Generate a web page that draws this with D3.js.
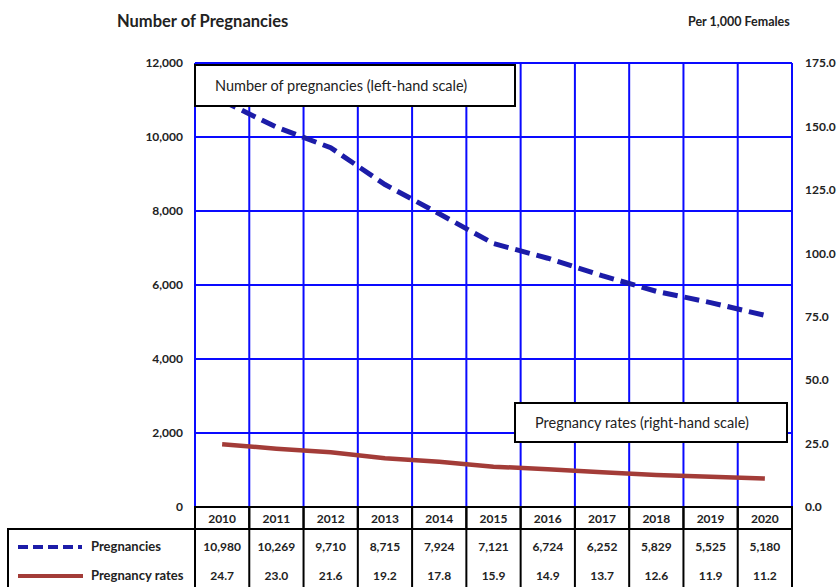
<!DOCTYPE html>
<html>
<head>
<meta charset="utf-8">
<script src="https://cdn.jsdelivr.net/npm/d3@7"></script>
<style>
  body { margin: 0; background: #fff; }
  text { font-family: Lato, "Open Sans", sans-serif; }
</style>
</head>
<body>
<svg id="chart" width="840" height="587"></svg>
<script>
const years = ['2010','2011','2012','2013','2014','2015','2016','2017','2018','2019','2020'];
const pregnancies = [10980, 10269, 9710, 8715, 7924, 7121, 6724, 6252, 5829, 5525, 5180];
const rates = [24.7, 23.0, 21.6, 19.2, 17.8, 15.9, 14.9, 13.7, 12.6, 11.9, 11.2];
const leftTicks = [0, 2000, 4000, 6000, 8000, 10000, 12000];
const rightTicks = [0, 25, 50, 75, 100, 125, 150, 175];

const margin = { top: 63, right: 48, bottom: 80, left: 195 };
const width = 840 - margin.left - margin.right;   // 597
const height = 587 - margin.top - margin.bottom;  // 444

const svg = d3.select('#chart');
const g = svg.append('g').attr('transform', `translate(${margin.left},${margin.top})`);

const x = d3.scaleBand().domain(years).range([0, width]);
const yL = d3.scaleLinear().domain([0, 12000]).range([height, 0]);
const yR = d3.scaleLinear().domain([0, 175]).range([height, 0]);

const grid = '#0a0aff';

// horizontal gridlines
g.selectAll('.hgrid')
  .data(leftTicks)
  .enter()
  .append('line')
  .attr('x1', 0).attr('x2', width)
  .attr('y1', d => yL(d)).attr('y2', d => yL(d))
  .attr('stroke', grid).attr('stroke-width', 2);

// vertical gridlines at band edges
const edges = years.map(d => x(d)).concat([width]);
g.selectAll('.vgrid')
  .data(edges)
  .enter()
  .append('line')
  .attr('x1', d => d).attr('x2', d => d)
  .attr('y1', 0).attr('y2', height)
  .attr('stroke', grid).attr('stroke-width', 2);

// left axis labels
const axL = g.append('g').call(d3.axisLeft(yL).tickValues(leftTicks).tickSize(0).tickPadding(12).tickFormat(d3.format(',')));
axL.select('.domain').remove();
axL.selectAll('text').attr('font-size', 12).attr('font-weight', 'bold').attr('fill', '#222')
  .style('font-family', 'Lato, sans-serif');

// right axis labels
const axR = g.append('g').attr('transform', `translate(${width},0)`)
  .call(d3.axisRight(yR).tickValues(rightTicks).tickSize(0).tickPadding(13).tickFormat(d3.format('.1f')));
axR.select('.domain').remove();
axR.selectAll('text').attr('font-size', 12).attr('font-weight', 'bold').attr('fill', '#222')
  .style('font-family', 'Lato, sans-serif');

const cx = d => x(d) + x.bandwidth() / 2;

// pregnancies line
g.append('path')
  .datum(pregnancies)
  .attr('fill', 'none')
  .attr('stroke', '#1c1ca8')
  .attr('stroke-width', 5)
  .attr('stroke-dasharray', '15,7')
  .attr('d', d3.line().x((d, i) => cx(years[i])).y(d => yL(d)));

// rates line
g.append('path')
  .datum(rates)
  .attr('fill', 'none')
  .attr('stroke', '#a33c38')
  .attr('stroke-width', 4.5)
  .attr('d', d3.line().x((d, i) => cx(years[i])).y(d => yR(d)));

// annotation boxes
function note(bx, by, bw, bh, label) {
  g.append('rect').attr('x', bx).attr('y', by).attr('width', bw).attr('height', bh)
    .attr('fill', '#fff').attr('stroke', '#000').attr('stroke-width', 2);
  g.append('text').attr('x', bx + 20).attr('y', by + bh / 2 + 5)
    .attr('font-size', 14.5).attr('fill', '#222').text(label);
}
note(0, 2, 320, 41, 'Number of pregnancies (left-hand scale)');
note(320, 340, 272, 39, 'Pregnancy rates (right-hand scale)');

// titles
svg.append('text').attr('x', 117).attr('y', 27).attr('font-size', 16.5).attr('font-weight', 'bold')
  .attr('fill', '#222').text('Number of Pregnancies');
svg.append('text').attr('x', 688).attr('y', 26).attr('font-size', 12.5).attr('font-weight', 'bold')
  .attr('fill', '#222').text('Per 1,000 Females');

// data table
const tTop = margin.top + height;       // 507
const hdrH = 22;
const rowTop = tTop + hdrH;             // 529
const tLeft = 8;
const tRight = margin.left + width;     // 792
const tb = svg.append('g');

// header cells
tb.selectAll('.hdr')
  .data(years)
  .enter()
  .append('rect')
  .attr('x', d => margin.left + x(d)).attr('y', tTop)
  .attr('width', x.bandwidth()).attr('height', hdrH)
  .attr('fill', 'none').attr('stroke', '#000').attr('stroke-width', 2);
tb.selectAll('.hdrText')
  .data(years)
  .enter()
  .append('text')
  .attr('x', d => margin.left + cx(d)).attr('y', tTop + 16)
  .attr('text-anchor', 'middle').attr('font-size', 12).attr('font-weight', 'bold').attr('fill', '#222')
  .text(d => d);

// body frame
tb.append('rect').attr('x', tLeft).attr('y', rowTop).attr('width', tRight - tLeft).attr('height', 70)
  .attr('fill', 'none').attr('stroke', '#000').attr('stroke-width', 2);
tb.selectAll('.vsep')
  .data(edges)
  .enter()
  .append('line')
  .attr('x1', d => margin.left + d).attr('x2', d => margin.left + d)
  .attr('y1', rowTop).attr('y2', 587)
  .attr('stroke', '#000').attr('stroke-width', 2);

const row1 = rowTop + 22, row2 = rowTop + 51;
tb.selectAll('.v1')
  .data(pregnancies)
  .enter()
  .append('text')
  .attr('x', (d, i) => margin.left + cx(years[i])).attr('y', row1)
  .attr('text-anchor', 'middle').attr('font-size', 12).attr('font-weight', 'bold').attr('fill', '#222')
  .text(d => d3.format(',')(d));
tb.selectAll('.v2')
  .data(rates)
  .enter()
  .append('text')
  .attr('x', (d, i) => margin.left + cx(years[i])).attr('y', row2)
  .attr('text-anchor', 'middle').attr('font-size', 12).attr('font-weight', 'bold').attr('fill', '#222')
  .text(d => d3.format('.1f')(d));

// legend keys
tb.append('line').attr('x1', 18).attr('x2', 82).attr('y1', row1 - 4).attr('y2', row1 - 4)
  .attr('stroke', '#1c1ca8').attr('stroke-width', 4).attr('stroke-dasharray', '10,5');
tb.append('text').attr('x', 91).attr('y', row1).attr('font-size', 13).attr('font-weight', 'bold')
  .attr('fill', '#222').text('Pregnancies');
tb.append('line').attr('x1', 18).attr('x2', 83).attr('y1', row2 - 4).attr('y2', row2 - 4)
  .attr('stroke', '#a33c38').attr('stroke-width', 4);
tb.append('text').attr('x', 91).attr('y', row2).attr('font-size', 13).attr('font-weight', 'bold')
  .attr('fill', '#222').text('Pregnancy rates');
</script>
</body>
</html>
